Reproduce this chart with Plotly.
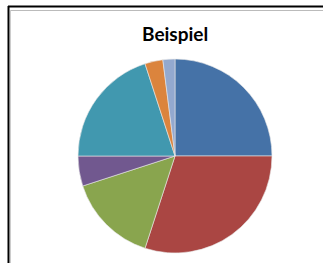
import plotly.graph_objects as go

labels = ["A", "B", "C", "D", "E", "F", "G"]
values = [25, 30, 15, 5, 20, 3, 2]
colors = ["#4572A7", "#AA4643", "#89A54E", "#71588F", "#4198AF", "#DB843D", "#93A9CF"]

W, H = 323, 263

fig = go.Figure(go.Pie(
    labels=labels, values=values, sort=False, direction="clockwise", rotation=0,
    marker=dict(colors=colors, line=dict(color="#E8E8E8", width=0.6)),
    textinfo="none", hoverinfo="label+value", showlegend=False,
    domain=dict(x=[(175 - 97) / W, (175 + 97) / W], y=[(263 - 156 - 97) / H, (263 - 156 + 97) / H]),
))

def px(x):
    return x / W

def py(y):
    return 1 - y / H

shapes = [
    dict(type="line", xref="paper", yref="paper", x0=px(8.5), x1=px(8.5), y0=py(6), y1=py(263), line=dict(color="#000", width=2)),
    dict(type="line", xref="paper", yref="paper", x0=px(8), x1=px(323), y0=py(6.5), y1=py(6.5), line=dict(color="#000", width=2)),
    dict(type="line", xref="paper", yref="paper", x0=px(10), x1=px(323), y0=py(10.5), y1=py(10.5), line=dict(color="#BBBBBB", width=1)),
    dict(type="line", xref="paper", yref="paper", x0=px(10.5), x1=px(10.5), y0=py(10), y1=py(263), line=dict(color="#CCCCCC", width=1)),
]

fig.update_layout(
    width=W, height=H, margin=dict(l=0, r=0, t=0, b=0),
    paper_bgcolor="white", plot_bgcolor="white",
    shapes=shapes,
    annotations=[dict(text="<b>Beispiel</b>", x=px(175), y=py(33.5), xref="paper", yref="paper",
                      xanchor="center", yanchor="middle", showarrow=False,
                      font=dict(family="Lato", size=19, color="#000"))],
)

fig.write_html("out.html", config={"displayModeBar": False},
               post_script="document.body.style.margin='0';document.body.style.overflow='hidden';")
